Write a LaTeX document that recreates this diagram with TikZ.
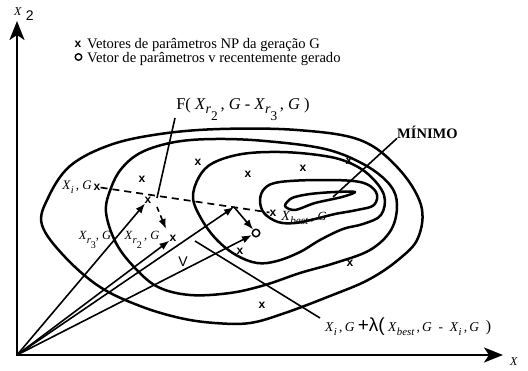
\documentclass[tikz,border=0pt]{standalone}
\usepackage{fontspec}
\setmainfont{Liberation Serif}
\setsansfont{Liberation Sans}
\usetikzlibrary{arrows.meta}
\newcommand{\Xs}[1]{\textit{X}\raisebox{-0.3em}{\scalebox{0.8}{\itshape #1}}}
\newcommand{\Xr}[1]{\textit{X}\raisebox{-0.3em}{\scalebox{0.85}{\itshape r\raisebox{-0.45em}{\scalebox{0.95}{\upshape #1}}}}}
\begin{document}
\begin{tikzpicture}[x=1pt,y=-1pt,
  contour/.style={line width=2.5pt, line join=round},
  vec/.style={line width=1.6pt, -{Latex[length=10pt,width=7.5pt]}},
  axis/.style={line width=2.3pt, line cap=rect, -{Stealth[length=19pt,width=15pt,inset=5pt]}},
  mk/.style={font=\sffamily\bfseries\fontsize{12}{12}\selectfont, inner sep=0pt},
  thin line/.style={line width=1.6pt},
  lbl/.style={inner sep=0pt, font=\fontsize{12}{13}\selectfont}]
\useasboundingbox (0,0) rectangle (528,370);

% axes
\coordinate (O) at (17,355);
\coordinate (Ytip) at (17,21);
\coordinate (Xtip) at (503,355);
\draw[axis] (O) -- (Ytip);
\draw[axis] (O) -- (Xtip);
\node[inner sep=0pt, anchor=base west] (x2) at (14,15) {\fontsize{12}{12}\selectfont\textit{X}\hspace{4pt}\raisebox{-1.0ex}{\sffamily\fontsize{14}{14}\selectfont 2}};
\node[inner sep=0pt, anchor=base west] (x1) at (510,365) {\fontsize{12}{13}\selectfont\textit{X}};

% legend
\node[mk] (lx) at (78,44) {x};
\node[lbl, anchor=base west, font=\fontsize{14.6}{15}\selectfont] (lt1) at (87,48) {Vetores de parâmetros NP da geração G};
\node[draw, circle, line width=1.4pt, minimum size=6.5pt, inner sep=0pt] (lo) at (78.5,57) {};
\node[lbl, anchor=base west, font=\fontsize{14.6}{15}\selectfont] (lt2) at (87,62) {Vetor de parâmetros v recentemente gerado};

% contours
\draw[contour] plot[smooth cycle, tension=0.6] coordinates {(42,225) (48,198) (70,166) (110,145) (160,134) (220,129) (297,130) (360,140) (398,168) (421,205) (418,238) (398,260) (368,280) (330,296) (285,313) (250,323) (215,323) (180,318) (140,306) (100,287) (65,257)};
\draw[contour] plot[smooth cycle, tension=0.6] coordinates {(106,212) (111,188) (122,168) (142,152) (175,142) (215,139) (265,141) (325,149) (365,165) (390,185) (397,205) (391,230) (370,250) (335,263) (300,273) (265,285) (230,293) (190,295) (158,287) (135,268) (116,243)};
\draw[contour] plot[smooth cycle, tension=0.6] coordinates {(193,198) (199,177) (213,163) (242,154) (280,152) (318,155) (345,161) (368,174) (384,195) (381,215) (363,224) (343,229) (320,240) (300,252) (277,261) (257,263) (236,255) (217,240) (202,220)};
\draw[contour] plot[smooth cycle, tension=0.6] coordinates {(260,200) (265,188) (280,182) (320,180) (360,182) (376,192) (374,205) (357,210) (335,214) (315,219) (295,223) (278,222) (264,213)};
\draw[contour] plot[smooth cycle, tension=0.5] coordinates {(285,206) (292,198) (310,194) (335,192) (355,192) (342,197) (315,203) (295,210)};

% markers
\node[mk] (m1) at (142,179) {x};
\node[mk] (m2) at (198,162) {x};
\node[mk] (m3) at (248,174) {x};
\node[mk] (m4) at (303,168) {x};
\node[mk] (m5) at (349,161) {x};
\node[mk] (m6) at (240,251) {x};
\node[mk] (m7) at (350,263) {x};
\node[mk] (m8) at (262,305) {x};
\node[mk] (Xi) at (97,187) {x};
\node[mk] (Xbest) at (273,213) {x};
\node[mk] (r3) at (148,200) {x};
\node[mk] (r2) at (173,238) {x};
\node[draw, circle, line width=1.5pt, minimum size=7.5pt, inner sep=0pt, fill=white] (v) at (256,233) {};

% labels
\node[lbl, anchor=east, font=\fontsize{13}{14}\selectfont] (Xil) at (92,187) {\Xs{i}\,, \textit{G}};
\node[lbl, font=\fontsize{12.5}{13}\selectfont] (r3l) at (95,240) {\Xr{3}, \textit{G}};
\node[lbl, font=\fontsize{12.5}{13}\selectfont] (r2l) at (142,240) {\Xr{2}\,, \textit{G}};
\node[lbl, font=\fontsize{14}{15}\selectfont] (Xbl) at (304,218) {\Xs{best}\,, {\fontsize{12.5}{13}\selectfont\textit{G}}};
\node[lbl, font=\fontsize{16.5}{17}\selectfont] (F) at (243,109) {F(\ \Xr{2}\,, \textit{G}\ - \Xr{3}\,, \textit{G}\ )};
\node[lbl, font=\bfseries\fontsize{14.5}{15}\selectfont, anchor=base west] (min) at (397,138) {MÍNIMO};
\node[lbl, font=\sffamily\fontsize{14}{15}\selectfont] (V) at (183,262) {V};
\node[lbl, anchor=base west, font=\fontsize{13.5}{14}\selectfont] (lam) at (325,331) {\Xs{i}\,,\,\textit{G} {\sffamily\fontsize{19}{19}\selectfont +λ(}\ \Xs{best}\,,\,\textit{G}\ \ -\ \ \Xs{i}\,,\,\textit{G}\ \ {\fontsize{16}{17}\selectfont )}};

% connectors
\draw[line width=1.7pt, dash pattern=on 7pt off 5pt] (Xi) -- (Xbest);
\coordinate (P) at (234,207);
\draw[vec] (O) -- (r3);
\draw[vec] (O) -- (r2);
\draw[vec] (O) -- (P);
\draw[vec] (O) -- (v);
\draw[vec] (P) -- (v);
\coordinate (Fa) at (175,118);
\coordinate (Fb) at (157,198);
\draw[thin line] (Fa) -- (Fb);
\coordinate (d1) at (157,207);
\coordinate (d2) at (166,229);
\draw[vec, dash pattern=on 5pt off 4pt] (d1) -- (d2);
\coordinate (l1) at (195,241);
\coordinate (l2) at (320,318);
\draw[thin line] (l1) -- (l2);
\coordinate (mn) at (333,197);
\draw[thin line] (mn) -- (min.south west);
\end{tikzpicture}
\end{document}
